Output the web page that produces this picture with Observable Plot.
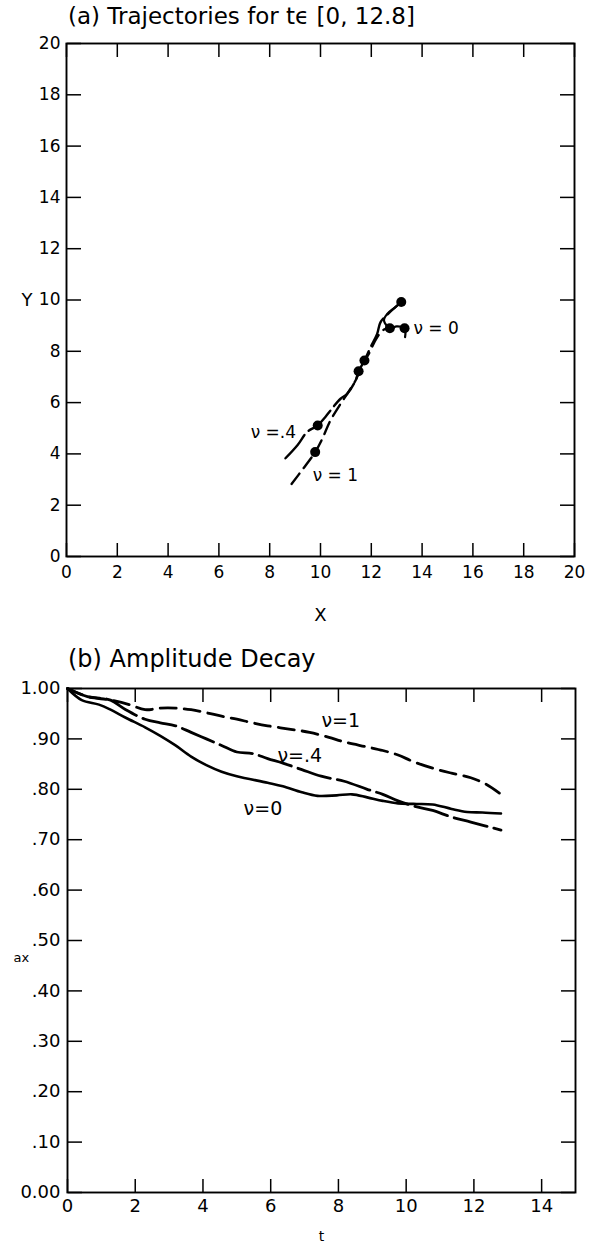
<!DOCTYPE html>
<html><head><meta charset="utf-8">
<script src="https://cdn.jsdelivr.net/npm/d3@7"></script>
<script src="https://cdn.jsdelivr.net/npm/@observablehq/plot@0.6"></script>
<style>
body{margin:0;background:#fff;}
#wrap{position:relative;width:597px;height:1254px;font-family:"DejaVu Sans",sans-serif;color:#000;background:#fff;}
.title{position:absolute;white-space:nowrap;line-height:1;z-index:5;}
#wrap svg{position:absolute;left:0;z-index:1;}
</style></head><body><div id="wrap">
<div class="title" style="left:68px;top:5px;font-size:23px">(a) Trajectories for tϵ [0, 12.8]</div>
<div class="title" style="left:68px;top:647px;font-size:24px">(b) Amplitude Decay</div>
</div>
<script>
// ---------- Panel (a) data: trajectories (X, Y) ----------
const trajNu4 = [[8.62,3.83],[9.1,4.35],[9.47,4.85],[9.89,5.11],[10.2,5.45],[10.39,5.69],[10.79,6.15],[11.05,6.34],[11.38,6.86],[11.5,7.22],[11.73,7.64],[11.97,8.16],[12.23,8.68],[12.36,9.13],[12.7,9.5],[13.18,9.92]];
const trajNu1 = [[8.86,2.83],[9.3,3.4],[9.79,4.07],[10.07,4.59],[10.39,5.3],[10.79,5.95],[11.05,6.34],[11.4,6.9],[11.6,7.4],[11.9,7.9],[12.2,8.5],[12.5,8.85],[12.73,8.9]];
const trajNu0 = [[13.18,9.92],[12.95,9.72],[12.62,9.45],[12.5,9.2],[12.73,8.9],[13.0,8.97],[13.31,8.9],[13.33,8.55]];
const dotsX = [13.18,12.73,13.31,11.73,11.5,9.89,9.79];
const dotsY = [9.92,8.9,8.9,7.64,7.22,5.11,4.07];
const ticksA = [0,2,4,6,8,10,12,14,16,18,20];
const labelsA = ["ν =.4","ν = 1","ν = 0"];

// ---------- Panel (b) data: amplitude decay (t, A) ----------
const ampNu0 = [[0,1],[0.42,0.977],[0.93,0.968],[1.27,0.958],[1.72,0.942],[2.29,0.923],[2.74,0.906],[3.19,0.887],[3.65,0.865],[4.1,0.848],[4.55,0.835],[5.0,0.826],[5.91,0.813],[6.36,0.806],[6.92,0.794],[7.38,0.787],[7.95,0.788],[8.4,0.79],[8.85,0.784],[9.31,0.777],[9.76,0.772],[10.21,0.771],[10.78,0.77],[11.34,0.761],[11.8,0.755],[12.25,0.754],[12.8,0.752]];
const ampNu4 = [[0,1],[0.59,0.984],[0.93,0.981],[1.27,0.977],[1.72,0.958],[2.29,0.939],[2.74,0.932],[3.19,0.926],[3.65,0.913],[4.1,0.9],[4.55,0.887],[5.0,0.874],[5.46,0.871],[5.91,0.861],[6.36,0.852],[6.92,0.839],[7.49,0.826],[8.17,0.816],[8.85,0.8],[9.31,0.79],[9.76,0.777],[10.32,0.765],[10.78,0.758],[11.34,0.745],[11.91,0.735],[12.8,0.719]];
const ampNu1 = [[0,1],[0.59,0.984],[1.27,0.977],[1.83,0.968],[2.29,0.958],[2.74,0.961],[3.19,0.961],[3.65,0.958],[4.1,0.952],[4.55,0.945],[5.0,0.939],[5.46,0.932],[5.91,0.926],[6.59,0.919],[7.15,0.913],[7.72,0.903],[8.17,0.894],[8.85,0.884],[9.31,0.877],[9.76,0.868],[10.21,0.855],[10.78,0.842],[11.34,0.832],[11.91,0.823],[12.36,0.81],[12.8,0.79]];
const ticksBx = [0,2,4,6,8,10,12,14];
const ticksBy = [0,0.1,0.2,0.3,0.4,0.5,0.6,0.7,0.8,0.9,1.0];
const labelsB = ["ν=1","ν=.4","ν=0"];

const wrap = document.getElementById("wrap");
const blank = () => "";
const font = "DejaVu Sans";

// inward ticks: tick direction anchor opposite to the frame side it sits on
function inwardTicks(tx, ty) {
  const o = {tickSize: 14, tickFormat: blank, label: null, strokeWidth: 1.5};
  return [
    Plot.axisX({...o, ticks: tx, anchor: "top", frameAnchor: "bottom"}),
    Plot.axisX({...o, ticks: tx, anchor: "bottom", frameAnchor: "top"}),
    Plot.axisY({...o, ticks: ty, anchor: "right", frameAnchor: "left"}),
    Plot.axisY({...o, ticks: ty, anchor: "left", frameAnchor: "right"})
  ];
}

// ---------- Panel (a) ----------
const labPosA = [{x:7.25,y:4.85},{x:9.69,y:3.16},{x:13.66,y:8.89}];
const plotA = Plot.plot({
  width: 597, height: 640,
  marginTop: 43, marginBottom: 84, marginLeft: 66, marginRight: 23,
  x: {domain: [0, 20]},
  y: {domain: [0, 20]},
  style: {fontFamily: font, fontSize: "17px", color: "black", background: "transparent", overflow: "visible"},
  marks: [
    Plot.frame({stroke: "black", strokeWidth: 1.9}),
    ...inwardTicks(ticksA, ticksA),
    Plot.axisX({ticks: ticksA, anchor: "bottom", tickSize: 0, tickPadding: 9, label: null}),
    Plot.axisY({ticks: ticksA, anchor: "left", tickSize: 0, tickPadding: 6, label: null}),
    Plot.text(["X"], {text: d => d, frameAnchor: "bottom", dy: 64, fontSize: 18}),
    Plot.text(["Y"], {text: d => d, y: [10], frameAnchor: "left", dx: -45, fontSize: 18}),
    Plot.line(trajNu4, {x: d => d[0], y: d => d[1], stroke: "black", strokeWidth: 2.4, strokeDasharray: "30,6", curve: "catmull-rom"}),
    Plot.line(trajNu1, {x: d => d[0], y: d => d[1], stroke: "black", strokeWidth: 2.4, strokeDasharray: "13,7", curve: "catmull-rom"}),
    Plot.line(trajNu0, {x: d => d[0], y: d => d[1], stroke: "black", strokeWidth: 2.2, curve: "catmull-rom"}),
    Plot.dot(dotsX, {x: d => d, y: (d, i) => dotsY[i], r: 5, fill: "black"}),
    Plot.text(labelsA, {text: d => d, x: (d, i) => labPosA[i].x, y: (d, i) => labPosA[i].y, textAnchor: "start", fontSize: 17})
  ]
});
plotA.style.top = "0px";
wrap.appendChild(plotA);

// ---------- Panel (b) ----------
const labPosB = [{x:7.5,y:0.936},{x:6.2,y:0.867},{x:5.2,y:0.762}];
const fmtB = d => d === 0 ? "0.00" : d === 1 ? "1.00" : d3.format(".2f")(d).slice(1);
const plotB = Plot.plot({
  width: 597, height: 614,
  marginTop: 48, marginBottom: 62, marginLeft: 67, marginRight: 22,
  x: {domain: [0, 15]},
  y: {domain: [0, 1]},
  style: {fontFamily: font, fontSize: "18px", color: "black", background: "transparent", overflow: "visible"},
  marks: [
    Plot.frame({stroke: "black", strokeWidth: 1.9}),
    ...inwardTicks(ticksBx, ticksBy),
    Plot.axisX({ticks: ticksBx, anchor: "bottom", tickSize: 0, tickPadding: 7, label: null}),
    Plot.axisY({ticks: ticksBy, anchor: "left", tickSize: 0, tickPadding: 7, label: null, tickFormat: fmtB}),
    Plot.text(["t"], {text: d => d, frameAnchor: "bottom", dy: 48, fontSize: 14}),
    Plot.text(["ax"], {text: d => d, y: [0.465], frameAnchor: "left", dx: -54, fontSize: 13}),
    Plot.line(ampNu1, {x: d => d[0], y: d => d[1], stroke: "black", strokeWidth: 2.8, strokeDasharray: "16,8", curve: "catmull-rom"}),
    Plot.line(ampNu4, {x: d => d[0], y: d => d[1], stroke: "black", strokeWidth: 2.8, strokeDasharray: "34,7", curve: "catmull-rom"}),
    Plot.line(ampNu0, {x: d => d[0], y: d => d[1], stroke: "black", strokeWidth: 2.6, curve: "catmull-rom"}),
    Plot.text(labelsB, {text: d => d, x: (d, i) => labPosB[i].x, y: (d, i) => labPosB[i].y, textAnchor: "start", fontSize: 19})
  ]
});
plotB.style.top = "640px";
wrap.appendChild(plotB);
</script>
</body></html>
